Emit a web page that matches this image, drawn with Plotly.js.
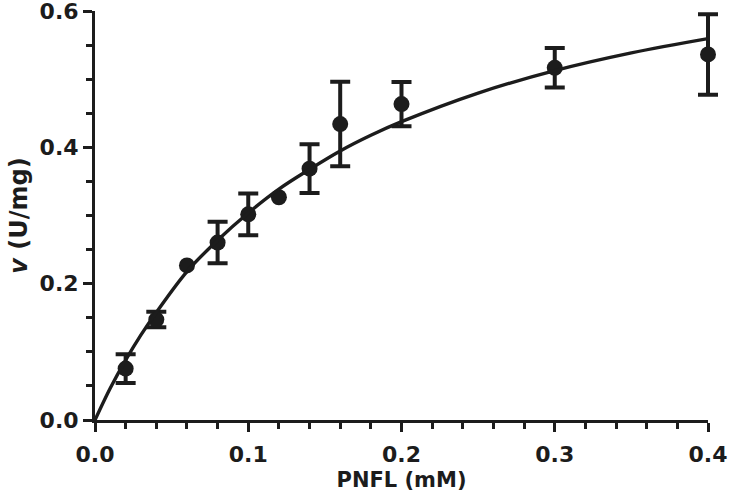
<!DOCTYPE html>
<html>
<head>
<meta charset="utf-8">
<script src="https://cdn.plot.ly/plotly-3.0.1.min.js"></script>
<style>html,body{margin:0;padding:0;background:#fff;}#chart{width:729px;height:501px;}</style>
</head>
<body>
<div id="chart"></div>
<script>
// Measured data (substrate concentration, mM) and activity (U/mg)
var substrate = [0.02, 0.04, 0.06, 0.08, 0.10, 0.12, 0.14, 0.16, 0.20, 0.30, 0.40];
var velocity  = [0.0755, 0.1475, 0.227, 0.2605, 0.302, 0.327, 0.369, 0.4345, 0.4638, 0.517, 0.5367];
var velocityErr = [0.021, 0.0115, null, 0.0305, 0.0306, null, 0.0357, 0.062, 0.0325, 0.029, 0.059];

// Fitted curve
var fitX = [0, 0.01, 0.02, 0.03, 0.04, 0.06, 0.08, 0.10, 0.12, 0.14, 0.16, 0.18, 0.20, 0.25, 0.30, 0.35, 0.40];
var fitY = [0, 0.047, 0.088, 0.125, 0.158, 0.218, 0.264, 0.304, 0.339, 0.368, 0.395, 0.418, 0.438, 0.480, 0.513, 0.539, 0.560];

var xTickVals = [0, 0.1, 0.2, 0.3, 0.4];
var xTickText = ['0.0', '0.1', '0.2', '0.3', '0.4'];
var yTickVals = [0, 0.2, 0.4, 0.6];
var yTickText = ['0.0', '0.2', '0.4', '0.6'];

var ink = '#1c1c1c';
var fontFam = 'DejaVu Sans, Liberation Sans, Arial, sans-serif';

// Geometry: the data subplot runs a little past x = 0.4 so the last error bar cap is not clipped;
// the visible x axis (x2) covers exactly 0 .. 0.4 on the same pixel scale.
var W = 729, H = 501, mL = 95, mR = 11, mT = 11, mB = 81;
var plotW = W - mL - mR;
var axisEndPx = 613;               // pixel length from x=0 to x=0.4
var xMax = 0.4;
var dataRangeMax = xMax * plotW / axisEndPx;

var traces = [
  {
    x: fitX, y: fitY, type: 'scatter', mode: 'lines', xaxis: 'x2', yaxis: 'y',
    line: {color: ink, width: 3.4, shape: 'spline'},
    hoverinfo: 'skip', cliponaxis: false
  },
  {
    x: substrate, y: velocity, type: 'scatter', mode: 'markers', xaxis: 'x', yaxis: 'y',
    marker: {color: ink, size: 16, symbol: 'circle'},
    error_y: {
      type: 'data', visible: true, color: ink, thickness: 4, width: 10,
      array: velocityErr.map(function (e) { return e === null ? NaN : e; })
    },
    cliponaxis: false
  }
];

var tickFont = {family: fontFam, size: 22, color: ink, weight: 'bold'};

var layout = {
  width: W, height: H,
  margin: {l: mL, r: mR, t: mT, b: mB},
  paper_bgcolor: '#fff', plot_bgcolor: 'rgba(0,0,0,0)',
  showlegend: false,
  font: {family: fontFam, color: ink},
  xaxis: {
    range: [0, dataRangeMax], domain: [0, 1], visible: false, showgrid: false, zeroline: false
  },
  xaxis2: {
    anchor: 'y', side: 'bottom',
    domain: [0, axisEndPx / plotW],
    range: [0, xMax], tickmode: 'array', tickvals: xTickVals, ticktext: xTickText,
    ticks: 'outside', ticklen: 9, tickwidth: 3, tickcolor: ink,
    showline: true, linewidth: 3, linecolor: ink,
    showgrid: false, zeroline: false, ticklabeloverflow: 'allow', ticklabelstandoff: 4,
    tickfont: tickFont,
    minor: {dtick: 0.02, ticks: 'outside', ticklen: 6, tickwidth: 3, tickcolor: ink, showgrid: false},
    title: {text: '<b>PNFL (mM)</b>', font: {family: fontFam, size: 21, color: ink}, standoff: 6}
  },
  yaxis: {
    anchor: 'x',
    range: [0, 0.6005], tickmode: 'array', tickvals: yTickVals, ticktext: yTickText,
    ticks: 'outside', ticklen: 9, tickwidth: 3, tickcolor: ink,
    showline: true, linewidth: 3, linecolor: ink,
    showgrid: false, zeroline: false, ticklabeloverflow: 'allow',
    tickfont: tickFont,
    minor: {dtick: 0.05, ticks: 'outside', ticklen: 6, tickwidth: 3, tickcolor: ink, showgrid: false},
    title: {text: '<b><i>v</i> (U/mg)</b>', font: {family: fontFam, size: 24, color: ink}, standoff: 6}
  }
};

Plotly.newPlot('chart', traces, layout, {displayModeBar: false, staticPlot: true});
</script>
</body>
</html>
